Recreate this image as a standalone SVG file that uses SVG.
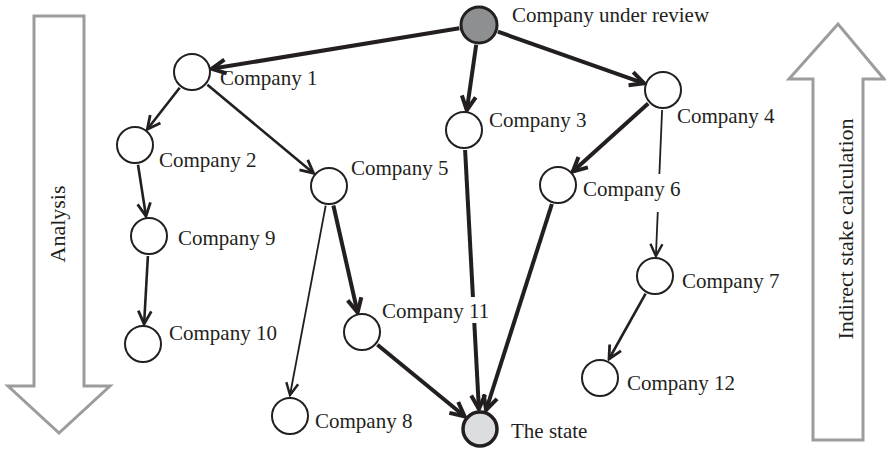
<svg xmlns="http://www.w3.org/2000/svg" width="886" height="449" viewBox="0 0 886 449">
<style>
  .bg{fill:#ffffff}
  .big{fill:#ffffff;stroke:#9c9c9c;stroke-width:3;stroke-linejoin:miter}
  .node{fill:#ffffff;stroke:#231f20;stroke-width:2}
  .lbl{font-family:"Liberation Serif","Times New Roman",serif;font-size:21px;fill:#231f20}
  .vlbl{font-family:"Liberation Serif","Times New Roman",serif;font-size:22px;fill:#231f20;text-anchor:middle}
  .mask{fill:#ffffff;stroke:none}
  .e{fill:none;stroke:#231f20;stroke-linecap:butt}
  .thick{stroke-width:4;marker-end:url(#ahThick)}
  .med{stroke-width:2.6;marker-end:url(#ahMed)}
  .thin{stroke-width:1.8;marker-end:url(#ahThin)}
</style>
<defs>
  <marker id="ahThick" markerUnits="userSpaceOnUse" viewBox="-18 -10 20 20" refX="0" refY="0" markerWidth="20" markerHeight="20" orient="auto">
    <path d="M-14,-7 L0,0 L-14,7" fill="none" stroke="#231f20" stroke-width="4"/>
  </marker>
  <marker id="ahMed" markerUnits="userSpaceOnUse" viewBox="-18 -10 20 20" refX="0" refY="0" markerWidth="20" markerHeight="20" orient="auto">
    <path d="M-13,-6.5 L0,0 L-13,6.5" fill="none" stroke="#231f20" stroke-width="2.8"/>
  </marker>
  <marker id="ahThin" markerUnits="userSpaceOnUse" viewBox="-18 -10 20 20" refX="0" refY="0" markerWidth="20" markerHeight="20" orient="auto">
    <path d="M-12,-6 L0,0 L-12,6" fill="none" stroke="#231f20" stroke-width="2.4"/>
  </marker>
</defs>
<rect class="bg" x="0" y="0" width="886" height="449"/>

<g id="analysis-arrow">
  <polygon class="big" points="34,16 84,16 84,386 110,386 59,433 8,386 34,386"/>
  <text class="vlbl" transform="translate(65,224) rotate(-90)">Analysis</text>
</g>
<g id="indirect-arrow">
  <polygon class="big" points="813,440 813,79 789,79 838,24 884,79 863,79 863,440"/>
  <text class="vlbl" transform="translate(853,229) rotate(-90)">Indirect stake calculation</text>
</g>

<g id="connectors">
  <line class="e thick" x1="459.3" y1="28.2" x2="211.7" y2="68.8"/>
  <line class="e thick" x1="476.2" y1="44.8" x2="466.8" y2="110.2"/>
  <line class="e thick" x1="497.9" y1="31.7" x2="644.1" y2="83.3"/>
  <line class="e med" x1="179.7" y1="87.8" x2="147.3" y2="129.2"/>
  <line class="e med" x1="207.4" y1="84.8" x2="313.6" y2="173.2"/>
  <line class="e med" x1="138" y1="164.8" x2="146" y2="216.2"/>
  <line class="e med" x1="147.9" y1="256" x2="144.1" y2="324"/>
  <line class="e thin" x1="325.7" y1="205.7" x2="290" y2="395"/>
  <line class="e thick" x1="333.4" y1="205.5" x2="357.6" y2="312.5"/>
  <line class="e thick" x1="465.1" y1="150" x2="478.9" y2="409"/>
  <line class="e thick" x1="648.2" y1="103.4" x2="572.8" y2="171.6"/>
  <line class="e thin" x1="662.1" y1="110" x2="655.9" y2="256"/>
  <line class="e thick" x1="551.9" y1="204" x2="486.1" y2="410"/>
  <line class="e med" x1="645.6" y1="293.7" x2="609" y2="359"/>
  <line class="e thick" x1="377.4" y1="344.7" x2="464.6" y2="416.3"/>
</g>

<g id="review">
  <circle cx="479" cy="25" r="18" fill="#8e8f91" stroke="#231f20" stroke-width="3"/>
  <text class="lbl" x="512" y="22">Company under review</text>
</g>
<g id="c1"><circle class="node" cx="192" cy="72" r="18"/><text class="lbl" x="220" y="85">Company 1</text></g>
<g id="c2"><circle class="node" cx="135" cy="145" r="18"/><text class="lbl" x="159" y="167">Company 2</text></g>
<g id="c3"><circle class="node" cx="464" cy="130" r="18"/><text class="lbl" x="489" y="127">Company 3</text></g>
<g id="c4"><circle class="node" cx="663" cy="90" r="18"/><text class="lbl" x="677" y="123">Company 4</text></g>
<g id="c5"><circle class="node" cx="329" cy="186" r="18"/><text class="lbl" x="351" y="175">Company 5</text></g>
<g id="c6"><circle class="node" cx="558" cy="185" r="18"/><rect class="mask" x="581" y="174" width="104" height="38"/><text class="lbl" x="583" y="196">Company 6</text></g>
<g id="c7"><circle class="node" cx="655" cy="276" r="18"/><text class="lbl" x="682" y="288">Company 7</text></g>
<g id="c8"><circle class="node" cx="290" cy="416" r="18"/><text class="lbl" x="315" y="428">Company 8</text></g>
<g id="c9"><circle class="node" cx="149" cy="236" r="18"/><text class="lbl" x="178" y="245">Company 9</text></g>
<g id="c10"><circle class="node" cx="143" cy="344" r="18"/><text class="lbl" x="169" y="340">Company 10</text></g>
<g id="c11"><circle class="node" cx="362" cy="332" r="18"/><rect class="mask" x="381" y="297" width="110" height="26"/><text class="lbl" x="382" y="318">Company 11</text></g>
<g id="c12"><circle class="node" cx="600" cy="378" r="18"/><text class="lbl" x="627" y="390">Company 12</text></g>
<g id="state">
  <circle cx="480" cy="429" r="17" fill="#dcddde" stroke="#231f20" stroke-width="3.5"/>
  <text class="lbl" x="511" y="438">The state</text>
</g>
</svg>
